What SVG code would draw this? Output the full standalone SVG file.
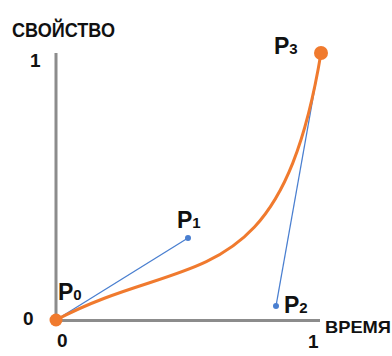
<svg xmlns="http://www.w3.org/2000/svg" width="392" height="356" viewBox="0 0 392 356">
<style>
.t{font-family:"Liberation Sans",Arial,sans-serif;font-weight:bold;fill:#111}
.ax{stroke:#8c8c8c;stroke-width:3;fill:none}
.ctl{stroke:#4a7fd0;stroke-width:1.3;fill:none}
.crv{stroke:#f07a2e;stroke-width:3;fill:none}
.p{font-size:23px}
.s{font-size:15px}
.n{font-size:19px}
</style>
<rect width="392" height="356" fill="#fff"/>
<g id="axes">
<path class="ax" d="M56,53 V320.5 H320"/>
</g>
<g id="connectors">
<line class="ctl" x1="56" y1="320" x2="188" y2="238"/>
<line class="ctl" x1="321" y1="53" x2="276" y2="306"/>
<path class="crv" d="M56,320 C188,250 280,300 321,53"/>
</g>
<g id="P0">
<circle cx="56" cy="320" r="6.5" fill="#f07a2e"/>
<text class="t p" x="58" y="300">P<tspan class="s">0</tspan></text>
</g>
<g id="P1">
<circle cx="188" cy="238" r="3" fill="#4a7fd0"/>
<text class="t p" x="177" y="228">P<tspan class="s">1</tspan></text>
</g>
<g id="P2">
<circle cx="276" cy="306" r="3" fill="#4a7fd0"/>
<text class="t p" x="284" y="313">P<tspan class="s">2</tspan></text>
</g>
<g id="P3">
<circle cx="321" cy="53" r="7" fill="#f07a2e"/>
<text class="t p" x="274" y="54">P<tspan class="s">3</tspan></text>
</g>
<g id="labels">
<text class="t" x="12" y="37" font-size="20" textLength="103" lengthAdjust="spacingAndGlyphs">СВОЙСТВО</text>
<text class="t n" x="30" y="67">1</text>
<text class="t n" x="23" y="325">0</text>
<text class="t n" x="57" y="347">0</text>
<text class="t n" x="308" y="348">1</text>
<text class="t" x="325" y="333" font-size="17" textLength="66" lengthAdjust="spacingAndGlyphs">ВРЕМЯ</text>
</g>
</svg>
